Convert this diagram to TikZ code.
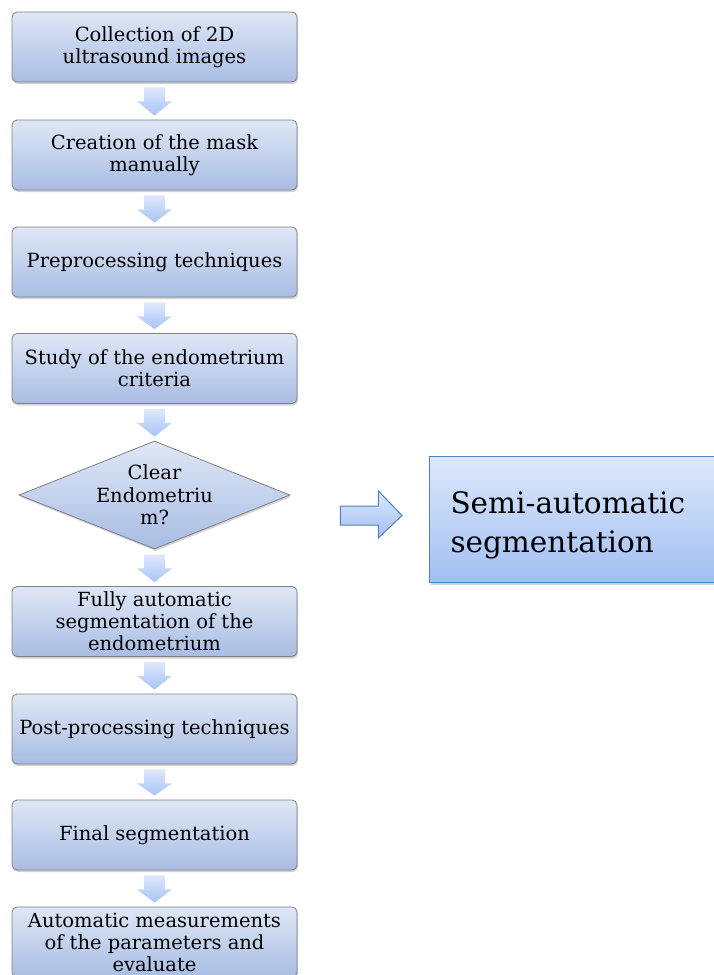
\documentclass[tikz,border=0pt]{standalone}
\usepackage{fontspec}
\setmainfont{DejaVu Serif}
\usetikzlibrary{calc,shapes.geometric,shadows}

\definecolor{boxtop}{RGB}{223,231,246}
\definecolor{boxbot}{RGB}{168,189,228}
\definecolor{boxline}{RGB}{128,128,128}
\definecolor{semitop}{RGB}{220,232,251}
\definecolor{semibot}{RGB}{162,191,244}
\definecolor{semiline}{RGB}{79,129,189}
\definecolor{arrtop}{RGB}{222,232,251}
\definecolor{arrbot}{RGB}{168,196,246}

% shaded arrow between two steps
\newcommand*{\steparrow}[2]{%
	\shade[top color=arrtop,bottom color=arrbot]
		($(#1.south)+(-10.5,5)$) -- ++(21,0) -- ++(0,14) -- ++(7,0)
		-- ($(#2.north)+(0,-4)$) -- ($(#1.south)+(-17.5,19)$) -- ++(7,0) -- cycle;
}

\begin{document}
\begin{tikzpicture}
[
	x=1pt,y=-1pt,
	stepbox/.style={rectangle,rounded corners=5pt,draw=boxline,line width=0.8pt,
		top color=boxtop,bottom color=boxbot,
		drop shadow={shadow xshift=1pt,shadow yshift=-2pt,opacity=0.35},
		minimum width=285pt,minimum height=70pt,inner sep=0pt,align=center,
		font=\fontsize{19.5}{22}\selectfont},
	decision/.style={diamond,aspect=2.5,draw=boxline,line width=0.8pt,
		top color=boxtop,bottom color=boxbot,
		drop shadow={shadow xshift=1pt,shadow yshift=-2pt,opacity=0.35},
		minimum width=271pt,minimum height=108pt,inner sep=-10pt,align=center,
		font=\fontsize{19.5}{22.5}\selectfont,
		execute at begin node=\rule{0pt}{21pt}},
	semibox/.style={rectangle,draw=semiline,line width=1pt,
		top color=semitop,bottom color=semibot,
		drop shadow={shadow xshift=1.5pt,shadow yshift=-2.5pt,opacity=0.35},
		minimum width=310pt,minimum height=126pt,inner xsep=21pt,
		text width=268pt,align=left,
		font=\fontsize{29.5}{39}\selectfont,
		execute at begin node=\rule{0pt}{34pt}}
]

	\useasboundingbox (0,0) rectangle (713,975);

	% steps
	\node[stepbox] (collect) at (154.5,47) {Collection of 2D\\ultrasound images};
	\node[stepbox] (mask) at (154.5,155) {Creation of the mask\\manually};
	\node[stepbox] (prep) at (154.5,262) {Preprocessing techniques};
	\node[stepbox] (study) at (154.5,368.5) {Study of the endometrium\\criteria};
	\node[decision] (dec) at (154.5,495) {Clear\\Endometriu\\m?};
	\node[stepbox] (auto) at (154.5,621.5) {Fully automatic\\segmentation of the\\endometrium};
	\node[stepbox] (post) at (154.5,729) {Post-processing techniques};
	\node[stepbox] (final) at (154.5,835) {Final segmentation};
	\node[stepbox] (measure) at (154.5,942) {Automatic measurements\\of the parameters and\\evaluate};

	\node[semibox,anchor=north west] (semi) at (429,456) {Semi-automatic\\segmentation};

	% arrows
	\steparrow{collect}{mask}
	\steparrow{mask}{prep}
	\steparrow{prep}{study}
	\steparrow{study}{dec}
	\steparrow{dec}{auto}
	\steparrow{auto}{post}
	\steparrow{post}{final}
	\steparrow{final}{measure}

	\coordinate (tail) at ($(dec.east |- semi.west)+(50,-4)$);
	\draw[semiline,line width=1pt,top color=semitop,bottom color=semibot]
		($(tail)+(0,-9.5)$) -- ++(38,0) -- ++(0,-15) -- ($(semi.west)+(-27,-4)$)
		-- ($(tail)+(38,22.5)$) -- ++(0,-13) -- ++(-38,0) -- cycle;

\end{tikzpicture}
\end{document}
